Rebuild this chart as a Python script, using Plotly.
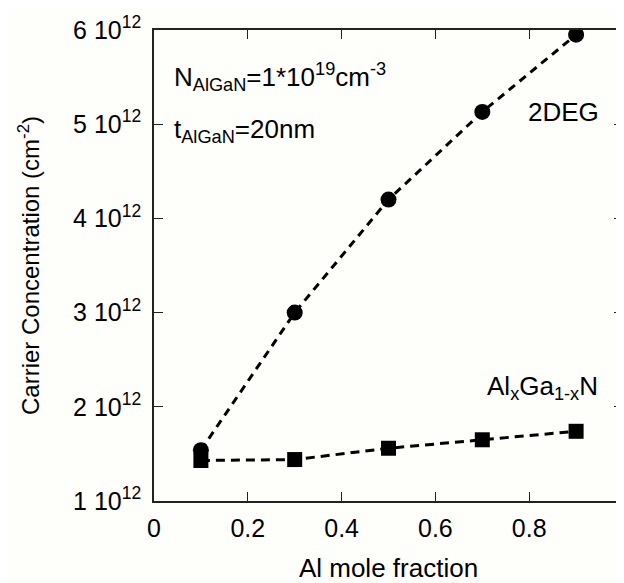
import plotly.graph_objects as go

x_vals = [0.1, 0.3, 0.5, 0.7, 0.9]
deg2_vals = [1.54e12, 3.0e12, 4.2e12, 5.13e12, 5.95e12]
algan_vals = [1.43e12, 1.44e12, 1.56e12, 1.65e12, 1.74e12]

x_ticks = [0, 0.2, 0.4, 0.6, 0.8, 1.0]
x_ticktext = ["0", "0.2", "0.4", "0.6", "0.8", "1"]
y_ticks = [1e12, 2e12, 3e12, 4e12, 5e12, 6e12]
y_ticktext = [f"{i} 10<sup>12</sup>" for i in range(1, 7)]

font = "Liberation Sans, Arial, sans-serif"

fig = go.Figure()
fig.add_trace(go.Scatter(x=x_vals, y=deg2_vals, mode="lines+markers",
                         line=dict(color="black", width=3, dash="8px,6px"),
                         marker=dict(symbol="circle", size=16, color="black"),
                         showlegend=False))
fig.add_trace(go.Scatter(x=x_vals, y=algan_vals, mode="lines+markers",
                         line=dict(color="black", width=3, dash="9px,6px"),
                         marker=dict(symbol="square", size=15, color="black"),
                         showlegend=False))

axis_common = dict(showline=True, linecolor="#222", linewidth=1.5, mirror="ticks",
                   ticks="inside", ticklen=9, tickwidth=1.2, tickcolor="#222",
                   showgrid=False, zeroline=False, automargin=False,
                   tickfont=dict(family=font, size=25, color="black"))

fig.update_xaxes(range=[0, 1], tickvals=x_ticks, ticktext=x_ticktext, ticklabelstandoff=4,
                 title=dict(text="Al mole fraction", font=dict(family=font, size=26, color="black"), standoff=22),
                 **axis_common)
fig.update_yaxes(range=[1e12, 6e12], tickvals=y_ticks, ticktext=y_ticktext, ticklabelstandoff=6,
                 title=dict(text="Carrier Concentration (cm<sup>-2</sup>)", font=dict(family=font, size=24, color="black"), standoff=27),
                 **axis_common)

ann_font = dict(family=font, size=26, color="black")
fig.add_annotation(x=0.038, y=5.5e12, xref="x", yref="y", xanchor="left", yanchor="middle",
                   text="N<sub>AlGaN</sub>=1*10<sup>19</sup>cm<sup>-3</sup>", showarrow=False, font=ann_font)
fig.add_annotation(x=0.038, y=4.93e12, xref="x", yref="y", xanchor="left", yanchor="middle",
                   text="t<sub>AlGaN</sub>=20nm", showarrow=False, font=ann_font)
fig.add_annotation(x=0.794, y=5.13e12, xref="x", yref="y", xanchor="left", yanchor="middle",
                   text="2DEG", showarrow=False, font=ann_font)
fig.add_annotation(x=0.705, y=2.2e12, xref="x", yref="y", xanchor="left", yanchor="middle",
                   text="Al<sub>x</sub>Ga<sub>1-x</sub>N", showarrow=False, font=ann_font)

# page body has an 8px default margin, so the figure is sized/offset to compensate
fig.update_layout(width=616, height=575,
                  margin=dict(l=146, r=1, t=22, b=82, autoexpand=False),
                  paper_bgcolor="#fefefb", plot_bgcolor="#fefefb",
                  font=dict(family=font, color="black"))

fig.write_html("out.html")
